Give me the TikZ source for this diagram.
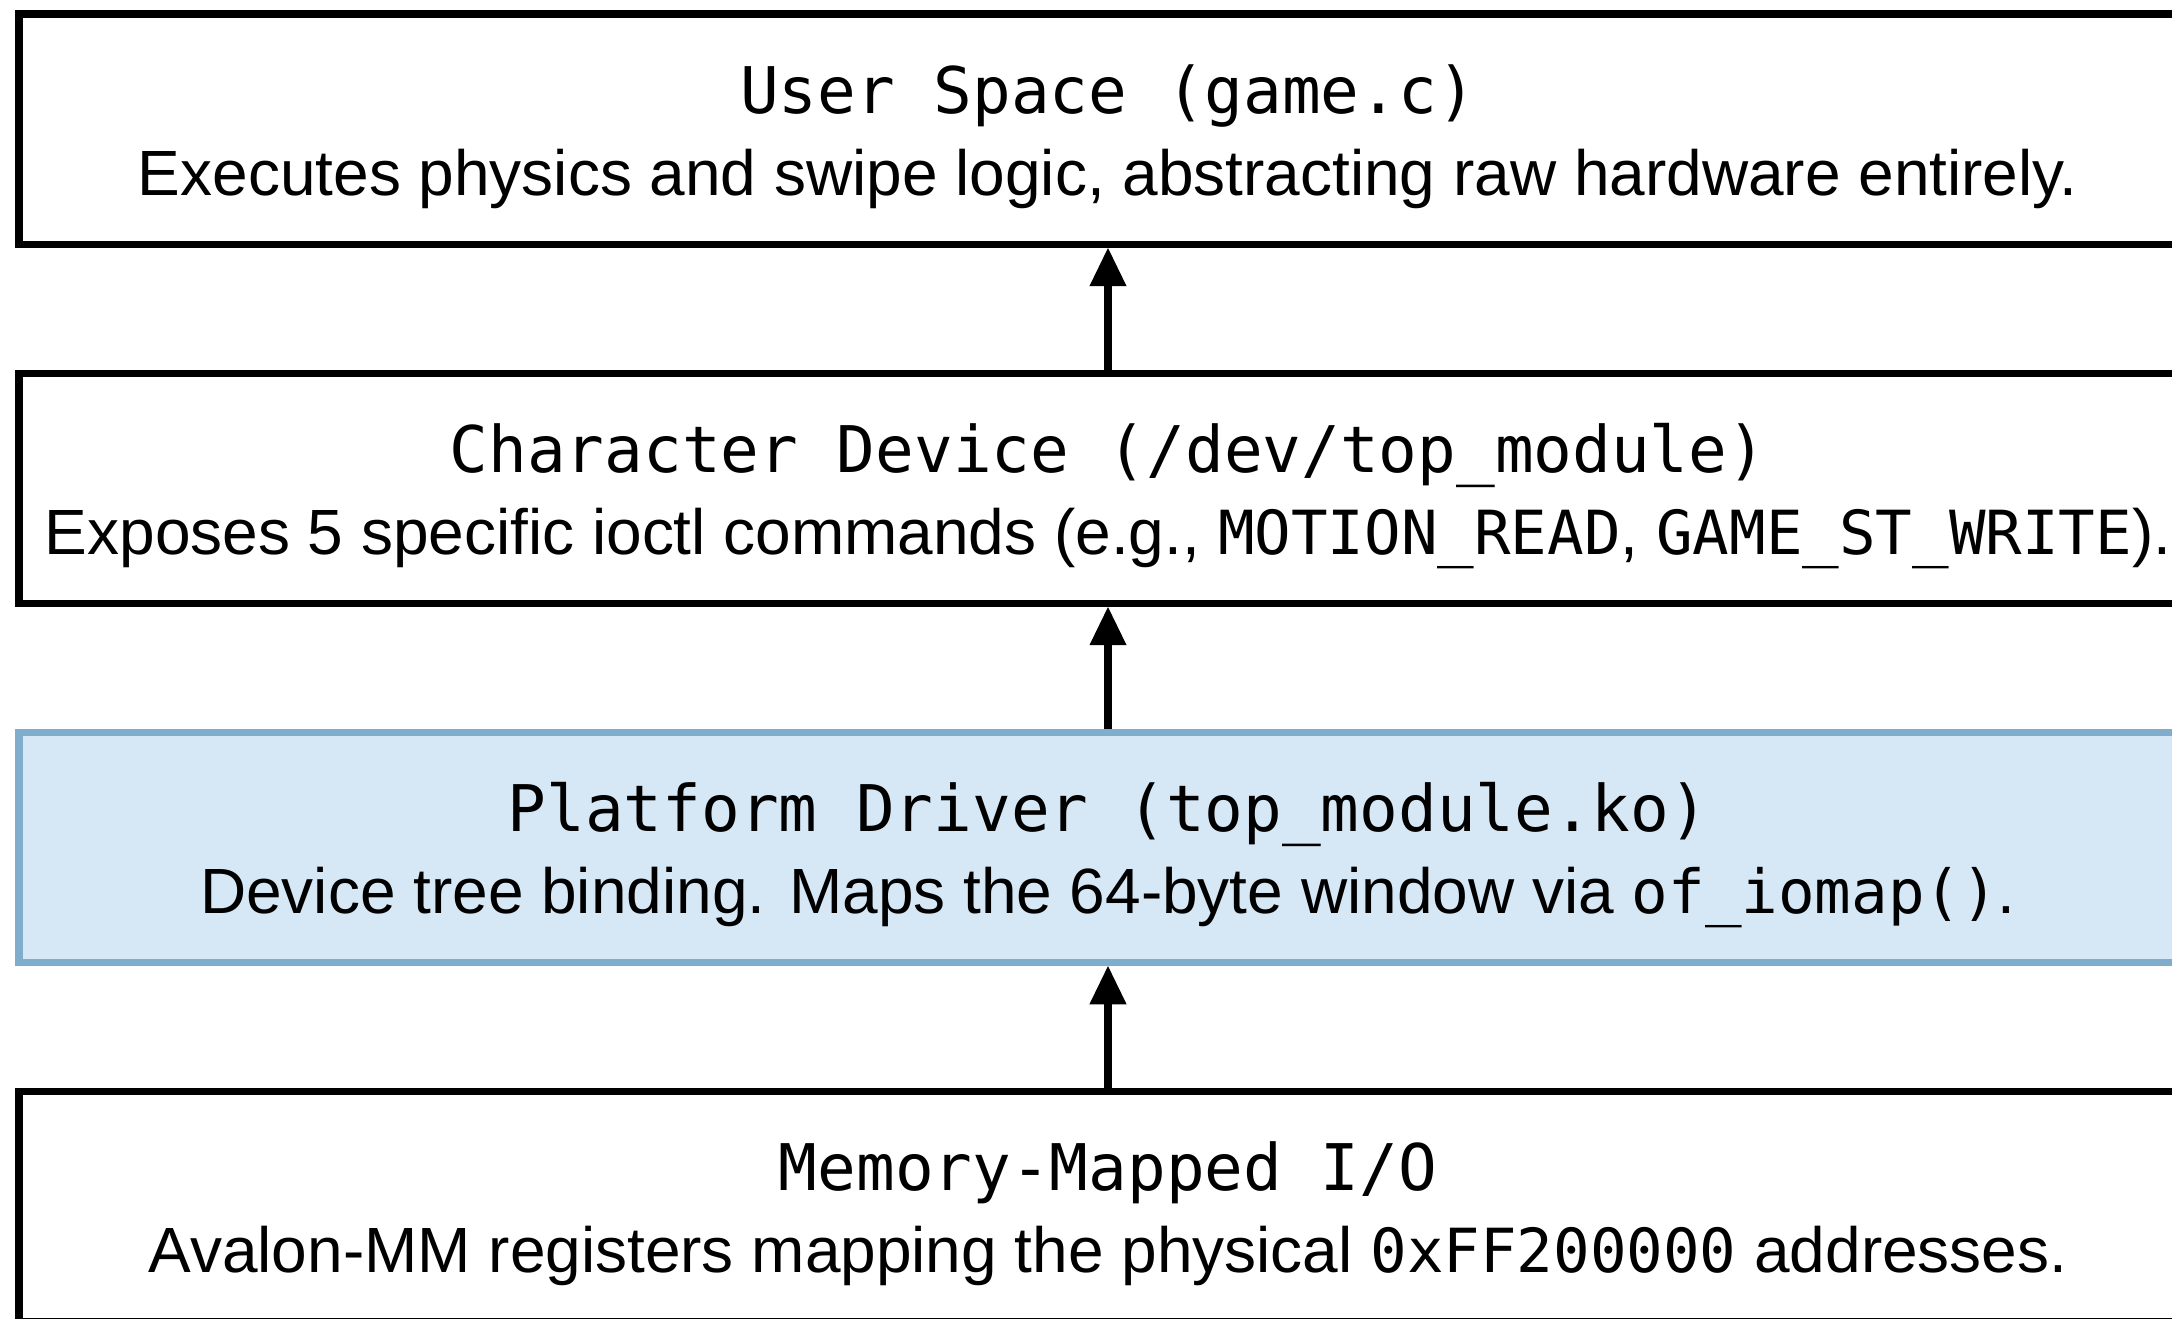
\documentclass[tikz,border=0pt]{standalone}
\usepackage{fontspec}
\setmainfont{Liberation Sans}
\newfontfamily\codefont{DejaVu Sans Mono}
\usetikzlibrary{positioning,arrows.meta}
\definecolor{drvfill}{HTML}{D6E7F5}
\definecolor{drvline}{HTML}{80ADCB}
\tikzstyle{layer}=[draw, line width=2pt, align=center, inner sep=0pt,
minimum width=217.8mm, minimum height=23mm,
font=\fontsize{18.2}{23.2}\selectfont]
\tikzstyle{up}=[line width=2pt, -{Triangle[width=10pt,length=11pt]}]
\newcommand{\ttl}[1]{{\codefont\fontsize{18.3}{23.2}\selectfont\rule{0pt}{19.6pt}#1}}
\newcommand{\dsc}[1]{#1\rule[-5pt]{0pt}{5pt}}
\newcommand{\cd}[1]{{\codefont\fontsize{17.3}{23.2}\selectfont #1}}

\begin{document}
\begin{tikzpicture}[node distance=12.2mm]
\useasboundingbox (0,0) rectangle (217.2mm,-131.8mm);
\clip (0,0) rectangle (217.2mm,-131.8mm);

\node[layer](user) at (110.8mm,-12.9mm)
 {\ttl{User Space (game.c)}\\
  \dsc{Executes physics and swipe logic, abstracting raw hardware entirely.}};
\node[layer, below=of user](chr)
 {\ttl{Character Device (/dev/top\_module)}\\
  \dsc{Exposes 5 specific ioctl commands (e.g., \cd{MOTION\_READ}, \cd{GAME\_ST\_WRITE}).}};
\node[layer, below=of chr, fill=drvfill, draw=drvline](drv)
 {\ttl{Platform Driver (top\_module.ko)}\\
  \dsc{Device tree binding. Maps the 64-byte window via \cd{of\_iomap()}.}};
\node[layer, below=of drv](mmio)
 {\ttl{Memory-Mapped I/O}\\
  \dsc{Avalon-MM registers mapping the physical \cd{0xFF200000} addresses.}};

\draw[up] (chr) -- (user);
\draw[up] (drv) -- (chr);
\draw[up] (mmio) -- (drv);
\end{tikzpicture}
\end{document}
